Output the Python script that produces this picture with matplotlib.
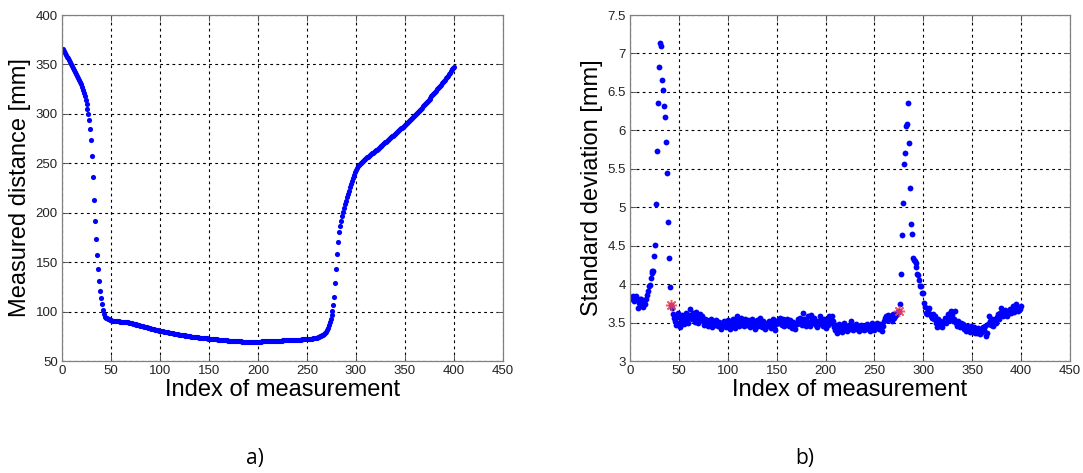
import matplotlib
matplotlib.use("Agg")
import matplotlib.pyplot as plt
from matplotlib import font_manager

# ---------------------------------------------------------------- data
# a) measured distance [mm] for measurement index 1..400
distance_mm = [
    366, 364, 362, 360, 358, 356, 354, 352, 350, 348,
    346, 344, 342, 340, 338, 336, 334, 332, 330, 327,
    324, 321, 318, 314, 310, 305, 300, 294, 285, 274,
    257, 236, 213, 192, 173, 157, 143, 131, 121, 114,
    108, 102, 98, 95, 94, 93, 92.5, 92, 91.5, 91,
    90.8, 90.6, 90.5, 90.4, 90.3, 90.2, 90.1, 90.0, 89.9, 89.8,
    89.7, 89.6, 89.5, 89.4, 89.3, 89.2, 89.0, 88.8, 88.5, 88.3,
    88.0, 87.8, 87.5, 87.3, 87.0, 86.8, 86.5, 86.3, 86.0, 85.8,
    85.6, 85.4, 85.1, 84.8, 84.5, 84.2, 83.9, 83.6, 83.3, 83.0,
    82.7, 82.4, 82.2, 82.0, 81.7, 81.5, 81.2, 81.0, 80.8, 80.6,
    80.4, 80.2, 80.0, 79.8, 79.6, 79.4, 79.2, 79.0, 78.8, 78.6,
    78.4, 78.2, 78.0, 77.8, 77.6, 77.4, 77.2, 77.0, 76.8, 76.6,
    76.4, 76.2, 76.1, 75.9, 75.8, 75.6, 75.5, 75.3, 75.2, 75.0,
    74.9, 74.7, 74.6, 74.4, 74.3, 74.2, 74.0, 73.9, 73.8, 73.6,
    73.5, 73.4, 73.3, 73.2, 73.1, 73.0, 72.9, 72.8, 72.7, 72.6,
    72.5, 72.4, 72.3, 72.2, 72.1, 72.0, 71.9, 71.8, 71.7, 71.6,
    71.5, 71.4, 71.3, 71.2, 71.1, 71.0, 70.9, 70.8, 70.7, 70.6,
    70.5, 70.4, 70.4, 70.3, 70.2, 70.2, 70.1, 70.0, 70.0, 69.9,
    69.9, 69.8, 69.8, 69.7, 69.7, 69.6, 69.6, 69.6, 69.5, 69.5,
    69.5, 69.5, 69.5, 69.5, 69.5, 69.5, 69.5, 69.5, 69.6, 69.6,
    69.6, 69.7, 69.7, 69.8, 69.8, 69.8, 69.9, 69.9, 70.0, 70.0,
    70.1, 70.1, 70.2, 70.2, 70.3, 70.3, 70.4, 70.4, 70.5, 70.5,
    70.6, 70.6, 70.7, 70.7, 70.8, 70.8, 70.9, 70.9, 71.0, 71.0,
    71.1, 71.1, 71.2, 71.2, 71.3, 71.3, 71.4, 71.4, 71.5, 71.5,
    71.6, 71.6, 71.7, 71.7, 71.8, 71.8, 71.9, 71.9, 72.0, 72.1,
    72.2, 72.3, 72.4, 72.5, 72.6, 72.8, 73.0, 73.2, 73.4, 73.7,
    74.0, 74.4, 74.8, 75.3, 75.9, 76.6, 77.5, 78.5, 79.8, 81.4,
    83.5, 86.0, 89.0, 92.5, 96.5, 101, 107, 115, 129, 143,
    158, 170, 180, 187, 192, 197, 201, 205, 209, 212,
    216, 219, 222, 226, 229, 232, 235, 238, 241, 243,
    245, 247, 248, 249.5, 250.5, 251.5, 252.5, 253.5, 254.3, 255.1,
    255.9, 256.7, 257.5, 258.3, 259.1, 259.9, 260.7, 261.5, 262.3, 263.1,
    263.9, 264.7, 265.5, 266.3, 267.1, 267.9, 268.7, 269.5, 270.3, 271.1,
    271.9, 272.7, 273.5, 274.4, 275.3, 276.2, 277.1, 278.0, 278.9, 279.8,
    280.7, 281.6, 282.5, 283.4, 284.3, 285.2, 286.1, 287.0, 288.0, 289.0,
    290.0, 291.0, 292.0, 293.0, 294.0, 295.0, 296.0, 297.0, 298.0, 299.0,
    300.0, 301.0, 302.0, 303.1, 304.2, 305.3, 306.4, 307.5, 308.6, 309.7,
    310.8, 311.9, 313.0, 314.1, 315.2, 316.4, 317.6, 318.8, 320.0, 321.2,
    322.4, 323.6, 324.8, 326.0, 327.2, 328.4, 329.6, 330.8, 332.0, 333.3,
    334.6, 335.9, 337.2, 338.6, 340.2, 341.8, 343.5, 345.0, 346.0, 347.0,
]

# b) standard deviation [mm] for measurement index 1..400
std_mm = [
    3.83, 3.80, 3.85, 3.78, 3.82, 3.84, 3.80, 3.69, 3.76, 3.81,
    3.80, 3.73, 3.70, 3.78, 3.74, 3.81, 3.86, 3.91, 3.97, 3.99,
    4.08, 4.17, 4.14, 4.17, 4.36, 4.51, 5.04, 5.73, 6.36, 6.83,
    7.13, 7.10, 6.65, 6.52, 6.31, 6.17, 5.85, 5.44, 4.81, 4.34,
    3.96, 3.73, 3.69, 3.61, 3.56, 3.52, 3.47, 3.57, 3.62, 3.50,
    3.44, 3.55, 3.60, 3.52, 3.48, 3.58, 3.63, 3.55, 3.50, 3.60,
    3.67, 3.58, 3.54, 3.62, 3.57, 3.51, 3.59, 3.64, 3.55, 3.49,
    3.56, 3.61, 3.53, 3.58, 3.52, 3.47, 3.55, 3.50, 3.53, 3.46,
    3.51, 3.49, 3.54, 3.44, 3.50, 3.52, 3.47, 3.53, 3.48, 3.45,
    3.51, 3.47, 3.42, 3.50, 3.46, 3.52, 3.48, 3.44, 3.49, 3.53,
    3.47, 3.41, 3.50, 3.45, 3.55, 3.48, 3.43, 3.52, 3.58, 3.49,
    3.46, 3.53, 3.50, 3.56, 3.48, 3.52, 3.45, 3.55, 3.51, 3.47,
    3.53, 3.49, 3.44, 3.51, 3.55, 3.47, 3.50, 3.42, 3.48, 3.53,
    3.46, 3.51, 3.56, 3.49, 3.44, 3.52, 3.48, 3.41, 3.47, 3.50,
    3.45, 3.52, 3.47, 3.43, 3.49, 3.54, 3.46, 3.40, 3.48, 3.51,
    3.53, 3.49, 3.56, 3.50, 3.47, 3.54, 3.51, 3.45, 3.52, 3.48,
    3.55, 3.50, 3.46, 3.53, 3.49, 3.43, 3.51, 3.47, 3.42, 3.50,
    3.48, 3.54, 3.50, 3.56, 3.52, 3.47, 3.63, 3.55, 3.49, 3.45,
    3.52, 3.58, 3.50, 3.46, 3.60, 3.54, 3.49, 3.56, 3.51, 3.47,
    3.44, 3.52, 3.48, 3.59, 3.53, 3.50, 3.46, 3.55, 3.49, 3.43,
    3.51, 3.47, 3.53, 3.59, 3.55, 3.50, 3.58, 3.52, 3.44, 3.40,
    3.47, 3.37, 3.43, 3.48, 3.40, 3.45, 3.38, 3.44, 3.49, 3.41,
    3.46, 3.39, 3.43, 3.47, 3.42, 3.52, 3.45, 3.40, 3.46, 3.43,
    3.48, 3.41, 3.45, 3.39, 3.44, 3.47, 3.42, 3.46, 3.40, 3.44,
    3.41, 3.48, 3.45, 3.42, 3.39, 3.46, 3.43, 3.49, 3.44, 3.40,
    3.47, 3.43, 3.50, 3.46, 3.42, 3.48, 3.44, 3.39, 3.45, 3.52,
    3.56, 3.58, 3.53, 3.60, 3.55, 3.59, 3.57, 3.52, 3.61, 3.56,
    3.58, 3.60, 3.62, 3.64, 3.65, 3.74, 4.13, 4.64, 5.05, 5.56,
    5.70, 6.05, 6.08, 6.36, 5.84, 5.25, 4.78, 4.65, 4.34, 4.32,
    4.30, 4.28, 4.22, 4.13, 4.12, 4.05, 3.98, 3.97, 3.89, 3.88,
    3.76, 3.70, 3.63, 3.61, 3.66, 3.69, 3.61, 3.58, 3.56, 3.61,
    3.54, 3.59, 3.50, 3.44, 3.55, 3.46, 3.52, 3.48, 3.44, 3.50,
    3.52, 3.56, 3.49, 3.55, 3.61, 3.58, 3.53, 3.65, 3.60, 3.52,
    3.55, 3.65, 3.50, 3.46, 3.52, 3.48, 3.44, 3.47, 3.50, 3.46,
    3.48, 3.42, 3.45, 3.39, 3.46, 3.44, 3.41, 3.38, 3.45, 3.42,
    3.40, 3.44, 3.37, 3.41, 3.36, 3.43, 3.39, 3.35, 3.42, 3.38,
    3.44, 3.40, 3.46, 3.33, 3.37, 3.48, 3.59, 3.52, 3.47, 3.55,
    3.46, 3.50, 3.54, 3.49, 3.57, 3.61, 3.55, 3.63, 3.69, 3.60,
    3.58, 3.64, 3.61, 3.66, 3.62, 3.59, 3.65, 3.63, 3.67, 3.62,
    3.66, 3.72, 3.64, 3.68, 3.74, 3.70, 3.65, 3.69, 3.67, 3.71,
]

# points marked with a red star in b)
marked_idx = [42, 275]

index = list(range(1, len(distance_mm) + 1))
x_ticks = [0, 50, 100, 150, 200, 250, 300, 350, 400, 450]
a_yticks = [50, 100, 150, 200, 250, 300, 350, 400]
b_yticks = [3, 3.5, 4, 4.5, 5, 5.5, 6, 6.5, 7, 7.5]

# ---------------------------------------------------------------- style
names = {f.name for f in font_manager.fontManager.ttflist}
NARROW = "Liberation Sans Narrow" if "Liberation Sans Narrow" in names else "Liberation Sans"
TICK_FS = 11 if NARROW.endswith("Narrow") else 9.5
LAB_FS = 19 if NARROW.endswith("Narrow") else 17


def style_axes(ax, yticks, ylim):
    ax.set_xlim(0, 450)
    ax.set_ylim(*ylim)
    ax.set_xticks(x_ticks)
    ax.set_yticks(yticks)
    ax.set_xticklabels([f"{t:g}" for t in x_ticks], family=NARROW, fontsize=TICK_FS)
    ax.set_yticklabels([f"{t:g}" for t in yticks], family=NARROW, fontsize=TICK_FS)
    ax.tick_params(direction="in", length=4, width=0.7, top=True, right=True,
                   colors="#555555", labelcolor="#222222", pad=3)
    ax.grid(True, color="black", linestyle=(0, (2.5, 3)), linewidth=0.8)
    for s in ax.spines.values():
        s.set_color("#808080")
        s.set_linewidth(0.9)
    ax.set_xlabel("Index of measurement", family=NARROW, fontsize=LAB_FS, labelpad=1)


fig = plt.figure(figsize=(10.83, 4.73), dpi=100)
ax_a = fig.add_axes([62 / 1083, 1 - 361 / 473, 441 / 1083, 346 / 473])
ax_b = fig.add_axes([630 / 1083, 1 - 361 / 473, 440 / 1083, 346 / 473])

ax_a.plot(index, distance_mm, linestyle="none", marker="o", markersize=3.7,
          color="#0000ff", markeredgewidth=0)
style_axes(ax_a, a_yticks, (50, 400))
ax_a.set_ylabel("Measured distance [mm]", family=NARROW, fontsize=LAB_FS, labelpad=3)

ax_b.plot(index, std_mm, linestyle="none", marker="o", markersize=4.2,
          color="#0000ff", markeredgewidth=0)
ax_b.plot(marked_idx, [std_mm[i - 1] for i in marked_idx], linestyle="none",
          marker=(8, 2, 0), markersize=8, markeredgewidth=1.1,
          color="#ff4040", alpha=0.85)
style_axes(ax_b, b_yticks, (3, 7.5))
ax_b.set_ylabel("Standard deviation [mm]", family=NARROW, fontsize=LAB_FS, labelpad=3)

fig.text(255 / 1083, 1 - 458 / 473, "a)", ha="center", va="center", fontsize=15,
         family="Open Sans")
fig.text(805 / 1083, 1 - 458 / 473, "b)", ha="center", va="center", fontsize=15,
         family="Open Sans")

fig.savefig("out.png", dpi=100, facecolor="white")
